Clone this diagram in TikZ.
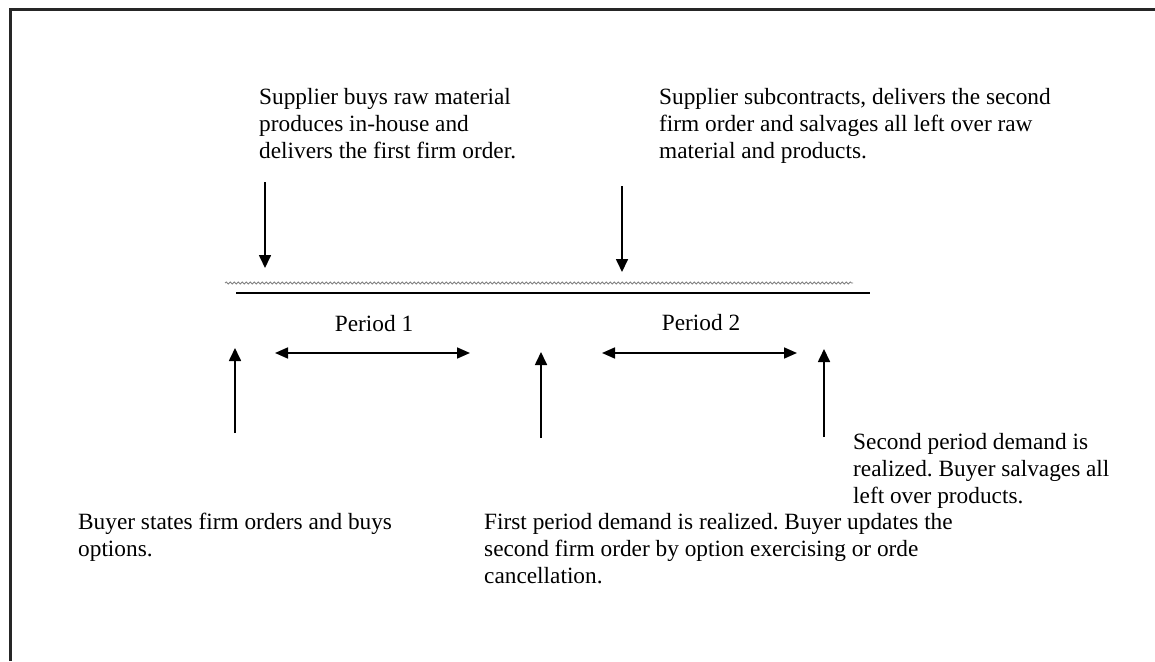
\documentclass[tikz,border=0pt]{standalone}
\usepackage{fontspec}
\setmainfont{Liberation Serif}
\usetikzlibrary{arrows.meta,decorations.pathmorphing}
\frenchspacing
\begin{document}
\begin{tikzpicture}[x=1pt,y=-1pt,
  txt/.style={anchor=base west,align=left,inner sep=0pt,font=\fontsize{23.3}{27}\selectfont},
  lbl/.style={anchor=base,inner sep=0pt,font=\fontsize{23.3}{27}\selectfont},
  arr/.style={line width=1.7pt,-{Triangle[length=13pt,width=12pt]}},
  darr/.style={line width=1.7pt,{Triangle[length=13pt,width=11pt]}-{Triangle[length=13pt,width=11pt]}}]
\useasboundingbox (0,0) rectangle (1155,661);
\fill[white] (0,0) rectangle (1155,661);
% frame (left and top)
\draw[line width=3pt,black!85] (10,661) -- (10,10) -- (1155,10);
% timeline
\coordinate (w1) at (225,283); \coordinate (w2) at (853,283);
\coordinate (t1) at (236,293); \coordinate (t2) at (870,293);
\draw[gray,line width=0.8pt,decorate,decoration={snake,segment length=4pt,amplitude=1pt}] (w1) -- (w2);
\draw[line width=2.5pt] (t1) -- (t2);
% texts (anchored at the baseline of the last line)
\node[txt] (s1) at (259,158) {Supplier buys raw material\\produces in-house and\\delivers the first firm order.};
\node[txt] (s2) at (659,158) {Supplier subcontracts, delivers the second\\firm order and salvages all left over raw\\material and products.};
\node[txt] (b3) at (853,503) {Second period demand is\\realized. Buyer salvages all\\left over products.};
\node[txt] (b1) at (78,556) {Buyer states firm orders and buys\\options.};
\node[txt] (b2) at (484,583) {First period demand is realized. Buyer updates the\\second firm order by option exercising or orde\\cancellation.};
\node[lbl] (p1) at (374,331) {Period 1};
\node[lbl] (p2) at (701,330) {Period 2};
% down arrows
\coordinate (d1a) at (265,182); \coordinate (d1b) at (265,268);
\coordinate (d2a) at (622,186); \coordinate (d2b) at (622,272);
\draw[arr] (d1a) -- (d1b);
\draw[arr] (d2a) -- (d2b);
% up arrows
\coordinate (u1a) at (235,433); \coordinate (u1b) at (235,348);
\coordinate (u2a) at (541,438); \coordinate (u2b) at (541,352);
\coordinate (u3a) at (824,437); \coordinate (u3b) at (824,349);
\draw[arr] (u1a) -- (u1b);
\draw[arr] (u2a) -- (u2b);
\draw[arr] (u3a) -- (u3b);
% period arrows
\coordinate (h1a) at (275,353); \coordinate (h1b) at (470,353);
\coordinate (h2a) at (602,353); \coordinate (h2b) at (797,353);
\draw[darr] (h1a) -- (h1b);
\draw[darr] (h2a) -- (h2b);
\end{tikzpicture}
\end{document}
